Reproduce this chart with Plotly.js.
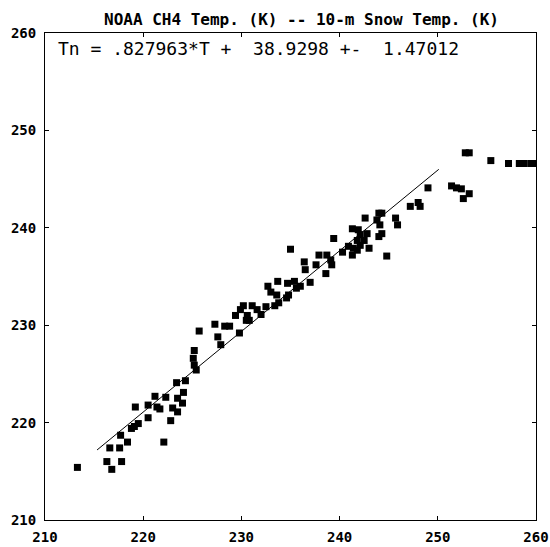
<!DOCTYPE html>
<html>
<head>
<meta charset="utf-8">
<script src="https://cdn.plot.ly/plotly-3.0.1.min.js"></script>
<style>html,body{margin:0;padding:0;background:#fff;}#chart{width:550px;height:547px;}</style>
</head>
<body>
<div id="chart"></div>
<script>
// NOAA CH4 temperature (K)
const ch4Temp = [
  213.3, 216.3, 216.8, 217.8, 216.6, 217.6, 218.4, 217.7, 222.1, 219.1,
  219.5, 218.8, 220.5, 219.2, 220.5, 221.2, 221.4, 221.7, 222.3, 222.8,
  223.0, 223.5, 223.5, 224.1, 224.0, 223.4, 224.3, 225.4, 225.2, 225.1,
  225.2, 225.7, 227.9, 227.6, 227.3, 228.3, 228.8, 229.8, 229.4, 229.9,
  230.2, 230.6, 230.8, 230.5, 231.1, 231.6, 232.0, 232.5, 233.4, 233.8,
  232.7, 233.0, 233.6, 233.7, 234.6, 234.8, 234.7, 235.4, 235.6, 237.0,
  236.0, 236.4, 236.5, 237.6, 237.9, 238.6, 238.7, 239.1, 239.2, 240.3,
  240.9, 239.4, 241.3, 241.4, 241.8, 242.1, 241.8, 242.5, 241.3, 241.9,
  242.1, 242.8, 243.0, 242.6, 243.8, 244.0, 244.3, 244.1, 244.3, 244.0,
  244.8, 245.7, 245.9, 247.2, 248.0, 248.2, 249.0, 251.4, 251.9, 252.4,
  252.6, 253.2, 252.8, 253.2, 255.4, 257.2, 258.3, 258.8, 259.5, 259.8,
  235.0
];
// 10-m snow temperature (K)
const snowTemp = [
  215.4, 216.0, 215.2, 216.0, 217.4, 217.4, 218.0, 218.7, 218.0, 219.6,
  219.9, 219.4, 220.5, 221.6, 221.8, 222.7, 221.6, 221.4, 222.6, 220.2,
  221.5, 221.1, 222.5, 223.1, 222.0, 224.1, 224.3, 225.4, 225.9, 226.6,
  227.4, 229.4, 228.0, 228.8, 230.1, 229.9, 229.9, 229.2, 231.0, 231.6,
  232.0, 231.0, 230.5, 230.5, 232.0, 231.6, 231.1, 231.9, 232.0, 232.3,
  234.0, 233.4, 233.1, 234.5, 232.8, 233.1, 234.3, 234.5, 233.8, 234.4,
  234.0, 236.5, 235.7, 236.2, 237.2, 235.3, 237.2, 236.7, 236.2, 237.5,
  238.1, 238.9, 237.2, 237.9, 237.7, 238.2, 238.7, 238.7, 239.9, 239.8,
  239.3, 239.4, 237.9, 241.0, 240.8, 241.5, 241.5, 240.3, 239.4, 239.1,
  237.1, 241.0, 240.3, 242.2, 242.6, 242.2, 244.1, 244.3, 244.1, 244.0,
  243.0, 243.5, 247.7, 247.7, 246.9, 246.6, 246.6, 246.6, 246.6, 246.6,
  237.8
];
// regression: Tn = slope*T + intercept
const slope = 0.827963;
const intercept = 38.9298;
const sigma = 1.47012;
const fitRange = [215.3, 250.1];
const fitY = fitRange.map(t => slope * t + intercept);
const tickVals = [210, 220, 230, 240, 250, 260];

const mono = "DejaVu Sans Mono, Liberation Mono, monospace";

const traces = [
  {
    x: ch4Temp, y: snowTemp, type: 'scatter', mode: 'markers',
    marker: {symbol: 'square', size: 7, color: '#000'},
    hoverinfo: 'x+y', showlegend: false
  },
  {
    x: fitRange, y: fitY, type: 'scatter', mode: 'lines',
    line: {color: '#000', width: 1}, showlegend: false
  }
];

const axisBase = {
  range: [210, 260], tickvals: tickVals, ticktext: tickVals.map(String),
  ticks: 'inside', ticklen: 4, tickwidth: 1, tickcolor: '#000',
  showline: true, linecolor: '#000', linewidth: 1, mirror: 'ticks',
  showgrid: false, zeroline: false, ticklabeloverflow: 'allow',
  tickfont: {family: mono, size: 14, color: '#000', weight: 'bold'}
};

const layout = {
  width: 550, height: 547,
  margin: {l: 45, r: 14, t: 33, b: 27, pad: 0},
  paper_bgcolor: '#fff', plot_bgcolor: '#fff',
  xaxis: Object.assign({}, axisBase, {ticklabelstandoff: 4}),
  yaxis: Object.assign({}, axisBase, {ticklabelstandoff: 5}),
  annotations: [
    {
      xref: 'paper', yref: 'paper', x: 0.523, y: 1.027,
      xanchor: 'center', yanchor: 'middle', showarrow: false,
      text: 'NOAA CH4 Temp. (K) -- 10-m Snow Temp. (K)',
      font: {family: mono, size: 16, color: '#000', weight: 'bold'}
    },
    {
      xref: 'paper', yref: 'paper', x: 0.022, y: 0.969,
      xanchor: 'left', yanchor: 'middle', showarrow: false,
      text: 'Tn = .' + String(slope).split('.')[1] + '*T +  ' + intercept + ' +-  ' + sigma,
      font: {family: mono, size: 18, color: '#000'}
    }
  ]
};

Plotly.newPlot('chart', traces, layout, {staticPlot: true, displayModeBar: false});
</script>
</body>
</html>
